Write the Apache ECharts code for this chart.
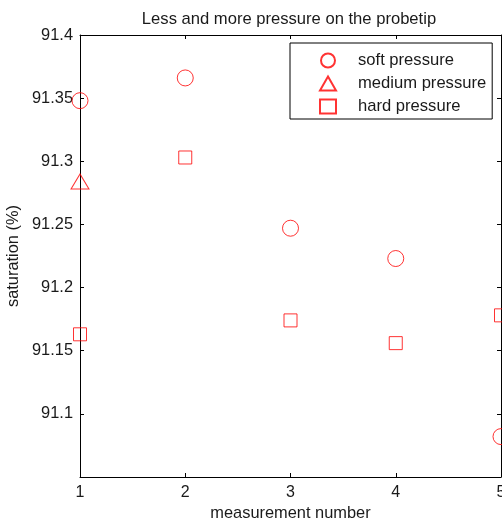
<!DOCTYPE html>
<html>
<head>
<meta charset="utf-8">
<script src="https://cdn.jsdelivr.net/npm/echarts@6/dist/echarts.min.js"></script>
<style>
  html, body { margin: 0; padding: 0; background: #fff; }
  #chart { width: 502px; height: 522px; }
</style>
</head>
<body>
<div id="chart"></div>
<script>
// measurement numbers and saturation readings (%)
const measurements = [1, 2, 3, 4, 5];
const softPressure = [91.348, 91.366, 91.247, 91.223, 91.082];
const mediumMeasurements = [1];
const mediumPressure = [91.284];
const hardPressure = [91.163, 91.303, 91.174, 91.156, 91.178];

const pairs = (xs, ys) => xs.map((x, i) => [x, ys[i]]);

const font = 'Liberation Sans, Arial, sans-serif';
const textColor = '#1a1a1a';
const red = '#ff0000';

const chart = echarts.init(document.getElementById('chart'));

const option = {
  animation: false,
  backgroundColor: '#fff',
  title: {
    text: 'Less and more pressure on the probetip',
    left: 284,
    textAlign: 'center',
    top: 6,
    textStyle: {fontFamily: font, fontSize: 16.6, fontWeight: 'normal', color: textColor}
  },
  grid: {left: 80, right: 1, top: 35, bottom: 45, outerBoundsMode: 'none'},
  legend: {
    orient: 'vertical',
    left: 290,
    top: 43,
    padding: [9, 6, 4, 29],
    itemWidth: 16,
    itemHeight: 14,
    itemGap: 6,
    borderColor: '#000',
    borderWidth: 1,
    backgroundColor: '#fff',
    textStyle: {fontFamily: font, fontSize: 16.6, lineHeight: 14, color: textColor, padding: [0, 0, 0, 17]},
    data: [
      {name: 'soft pressure', icon: 'circle'},
      {name: 'medium pressure', icon: 'triangle'},
      {name: 'hard pressure', icon: 'rect'}
    ]
  },
  xAxis: [
    {
      type: 'value', min: 1, max: 5, interval: 1,
      name: 'measurement number', nameLocation: 'middle', nameGap: 28,
      nameTextStyle: {fontFamily: font, fontSize: 16.4, color: textColor},
      axisLine: {lineStyle: {color: '#000', width: 1}},
      axisTick: {inside: true, length: 4, lineStyle: {color: '#000'}},
      axisLabel: {fontFamily: font, fontSize: 16, color: textColor, margin: 8},
      splitLine: {show: false}
    },
    {
      type: 'value', min: 1, max: 5, interval: 1, position: 'top',
      axisLine: {lineStyle: {color: '#000', width: 1}},
      axisTick: {inside: true, length: 4, lineStyle: {color: '#000'}},
      axisLabel: {show: false},
      splitLine: {show: false}
    }
  ],
  yAxis: [
    {
      type: 'value', min: 91.05, max: 91.4, interval: 0.05,
      name: 'saturation (%)', nameLocation: 'middle', nameGap: 57,
      nameTextStyle: {fontFamily: font, fontSize: 16.4, color: textColor},
      axisLine: {lineStyle: {color: '#000', width: 1}},
      axisTick: {inside: true, length: 4, lineStyle: {color: '#000'}},
      axisLabel: {
        fontFamily: font, fontSize: 16.4, color: textColor, margin: 7, showMinLabel: false,
        formatter: v => String(Math.round(v * 100) / 100)
      },
      splitLine: {show: false}
    },
    {
      type: 'value', min: 91.05, max: 91.4, interval: 0.05, position: 'right',
      axisLine: {show: true, lineStyle: {color: '#000', width: 1}},
      axisTick: {inside: true, length: 4, lineStyle: {color: '#000'}},
      axisLabel: {show: false},
      splitLine: {show: false}
    }
  ],
  series: [
    {
      name: 'soft pressure', type: 'scatter', symbol: 'circle', symbolSize: 16,
      itemStyle: {color: 'transparent', borderColor: red, borderWidth: 1},
      data: pairs(measurements, softPressure)
    },
    {
      name: 'medium pressure', type: 'scatter', symbol: 'triangle', symbolSize: [18, 15],
      itemStyle: {color: 'transparent', borderColor: red, borderWidth: 1},
      data: pairs(mediumMeasurements, mediumPressure)
    },
    {
      name: 'hard pressure', type: 'scatter', symbol: 'rect', symbolSize: 13,
      itemStyle: {color: 'transparent', borderColor: red, borderWidth: 1},
      data: pairs(measurements, hardPressure)
    }
  ]
};

chart.setOption(option);
</script>
</body>
</html>
